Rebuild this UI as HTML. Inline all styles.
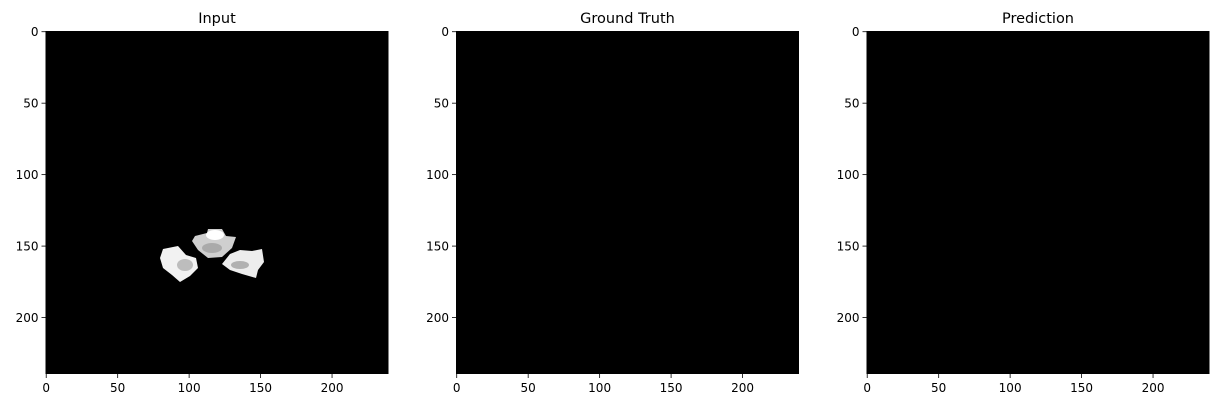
<!DOCTYPE html>
<html><head><meta charset="utf-8"><style>
body{margin:0;background:#fff;width:1222px;height:407px;overflow:hidden;font-family:"Liberation Sans","DejaVu Sans",sans-serif}
svg text{font-family:"DejaVu Sans","Liberation Sans",sans-serif}
</style></head><body>
<svg id="fig" width="1222" height="407" xmlns="http://www.w3.org/2000/svg"></svg>
<script>
const titles=["Input","Ground Truth","Prediction"];
const panelLeft=[45.5,456,866.5];
const ticks=[0,50,100,150,200];
const tickLabels=["0","50","100","150","200"];
const imgSize=240;
const NS="http://www.w3.org/2000/svg";
const svg=document.getElementById('fig');
const top0=31,side=343,sc=side/imgSize;
function mk(t,a,p){const e=document.createElementNS(NS,t);for(const k in a)e.setAttribute(k,a[k]);(p||svg).appendChild(e);return e;}
titles.forEach((tt,i)=>{
  const L=panelLeft[i];
  const g=mk('g',{});
  
  
  const r=mk('rect',{x:L,y:top0,width:side,height:side,fill:'#000'},g);
  
  
  const t=mk('text',{x:L+side/2,y:23,'text-anchor':'middle','font-size':14.5,fill:'#000'},g);
  t.textContent=tt;
  
  
  ticks.forEach((v,j)=>{
    const x=L+(v+0.5)*sc,y=top0+(v+0.5)*sc;
    mk('line',{x1:x,x2:x,y1:top0+side,y2:top0+side+4,stroke:'#000','stroke-width':0.8},g);
    const xl=mk('text',{x:x,y:top0+side+18,'text-anchor':'middle','font-size':12},g);
    xl.textContent=tickLabels[j];
    
    
    mk('line',{x1:L-4,x2:L,y1:y,y2:y,stroke:'#000','stroke-width':0.8},g);
    const yl=mk('text',{x:L-7,y:y+4.5,'text-anchor':'end','font-size':12},g);
    yl.textContent=tickLabels[j];
    
    
  });
});
const bg=mk('g',{});


mk('polygon',{points:"163,249 178,246 186,255 196,258 198,268 190,276 180,282 172,275 163,268 160,258",fill:'#f2f2f2'},bg);
mk('ellipse',{cx:185,cy:265,rx:8,ry:6,fill:'#999',opacity:0.6},bg);
mk('polygon',{points:"195,236 207,233 208,229 222,229 226,236 236,237 232,248 222,257 208,258 198,250 192,241",fill:'#cfcfcf'},bg);
mk('ellipse',{cx:215,cy:235,rx:9,ry:5,fill:'#fff'},bg);
mk('ellipse',{cx:212,cy:248,rx:10,ry:5,fill:'#9a9a9a',opacity:0.7},bg);
mk('polygon',{points:"230,254 240,250 252,251 262,249 264,262 258,270 256,278 242,274 230,270 222,264",fill:'#ededed'},bg);
mk('ellipse',{cx:240,cy:265,rx:9,ry:4,fill:'#888',opacity:0.6},bg);
</script>
</body></html>
